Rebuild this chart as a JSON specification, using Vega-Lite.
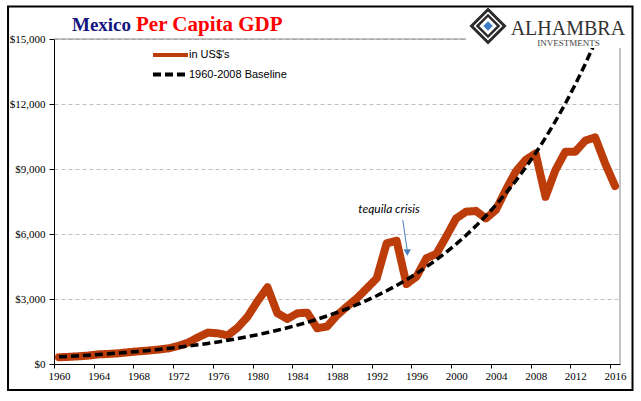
{
  "$schema": "https://vega.github.io/schema/vega-lite/v6.json",
  "width": 566,
  "height": 325,
  "autosize": {"type": "none"},
  "padding": {"left": 54, "top": 39, "right": 21, "bottom": 37},
  "background": "white",
  "config": {"view": {"stroke": null}},
  "datasets": {
    "gdp": [
      {"year": 1960, "value": 310, "series": "in US$'s"},
      {"year": 1961, "value": 330, "series": "in US$'s"},
      {"year": 1962, "value": 355, "series": "in US$'s"},
      {"year": 1963, "value": 390, "series": "in US$'s"},
      {"year": 1964, "value": 445, "series": "in US$'s"},
      {"year": 1965, "value": 465, "series": "in US$'s"},
      {"year": 1966, "value": 495, "series": "in US$'s"},
      {"year": 1967, "value": 540, "series": "in US$'s"},
      {"year": 1968, "value": 585, "series": "in US$'s"},
      {"year": 1969, "value": 620, "series": "in US$'s"},
      {"year": 1970, "value": 665, "series": "in US$'s"},
      {"year": 1971, "value": 720, "series": "in US$'s"},
      {"year": 1972, "value": 830, "series": "in US$'s"},
      {"year": 1973, "value": 985, "series": "in US$'s"},
      {"year": 1974, "value": 1230, "series": "in US$'s"},
      {"year": 1975, "value": 1450, "series": "in US$'s"},
      {"year": 1976, "value": 1415, "series": "in US$'s"},
      {"year": 1977, "value": 1320, "series": "in US$'s"},
      {"year": 1978, "value": 1680, "series": "in US$'s"},
      {"year": 1979, "value": 2185, "series": "in US$'s"},
      {"year": 1980, "value": 2900, "series": "in US$'s"},
      {"year": 1981, "value": 3540, "series": "in US$'s"},
      {"year": 1982, "value": 2340, "series": "in US$'s"},
      {"year": 1983, "value": 2080, "series": "in US$'s"},
      {"year": 1984, "value": 2340, "series": "in US$'s"},
      {"year": 1985, "value": 2370, "series": "in US$'s"},
      {"year": 1986, "value": 1650, "series": "in US$'s"},
      {"year": 1987, "value": 1730, "series": "in US$'s"},
      {"year": 1988, "value": 2250, "series": "in US$'s"},
      {"year": 1989, "value": 2650, "series": "in US$'s"},
      {"year": 1990, "value": 3030, "series": "in US$'s"},
      {"year": 1991, "value": 3490, "series": "in US$'s"},
      {"year": 1992, "value": 3955, "series": "in US$'s"},
      {"year": 1993, "value": 5570, "series": "in US$'s"},
      {"year": 1994, "value": 5690, "series": "in US$'s"},
      {"year": 1995, "value": 3690, "series": "in US$'s"},
      {"year": 1996, "value": 4030, "series": "in US$'s"},
      {"year": 1997, "value": 4880, "series": "in US$'s"},
      {"year": 1998, "value": 5080, "series": "in US$'s"},
      {"year": 1999, "value": 5880, "series": "in US$'s"},
      {"year": 2000, "value": 6720, "series": "in US$'s"},
      {"year": 2001, "value": 7030, "series": "in US$'s"},
      {"year": 2002, "value": 7060, "series": "in US$'s"},
      {"year": 2003, "value": 6720, "series": "in US$'s"},
      {"year": 2004, "value": 7110, "series": "in US$'s"},
      {"year": 2005, "value": 8030, "series": "in US$'s"},
      {"year": 2006, "value": 8880, "series": "in US$'s"},
      {"year": 2007, "value": 9420, "series": "in US$'s"},
      {"year": 2008, "value": 9720, "series": "in US$'s"},
      {"year": 2009, "value": 7720, "series": "in US$'s"},
      {"year": 2010, "value": 8950, "series": "in US$'s"},
      {"year": 2011, "value": 9800, "series": "in US$'s"},
      {"year": 2012, "value": 9800, "series": "in US$'s"},
      {"year": 2013, "value": 10310, "series": "in US$'s"},
      {"year": 2014, "value": 10460, "series": "in US$'s"},
      {"year": 2015, "value": 9260, "series": "in US$'s"},
      {"year": 2016, "value": 8215, "series": "in US$'s"}
    ],
    "base": [
      {"year": 1960, "value": 330, "series": "1960-2008 Baseline"},
      {"year": 1961, "value": 354, "series": "1960-2008 Baseline"},
      {"year": 1962, "value": 380, "series": "1960-2008 Baseline"},
      {"year": 1963, "value": 408, "series": "1960-2008 Baseline"},
      {"year": 1964, "value": 438, "series": "1960-2008 Baseline"},
      {"year": 1965, "value": 470, "series": "1960-2008 Baseline"},
      {"year": 1966, "value": 504, "series": "1960-2008 Baseline"},
      {"year": 1967, "value": 541, "series": "1960-2008 Baseline"},
      {"year": 1968, "value": 580, "series": "1960-2008 Baseline"},
      {"year": 1969, "value": 623, "series": "1960-2008 Baseline"},
      {"year": 1970, "value": 668, "series": "1960-2008 Baseline"},
      {"year": 1971, "value": 717, "series": "1960-2008 Baseline"},
      {"year": 1972, "value": 769, "series": "1960-2008 Baseline"},
      {"year": 1973, "value": 825, "series": "1960-2008 Baseline"},
      {"year": 1974, "value": 886, "series": "1960-2008 Baseline"},
      {"year": 1975, "value": 950, "series": "1960-2008 Baseline"},
      {"year": 1976, "value": 1020, "series": "1960-2008 Baseline"},
      {"year": 1977, "value": 1094, "series": "1960-2008 Baseline"},
      {"year": 1978, "value": 1174, "series": "1960-2008 Baseline"},
      {"year": 1979, "value": 1260, "series": "1960-2008 Baseline"},
      {"year": 1980, "value": 1352, "series": "1960-2008 Baseline"},
      {"year": 1981, "value": 1451, "series": "1960-2008 Baseline"},
      {"year": 1982, "value": 1557, "series": "1960-2008 Baseline"},
      {"year": 1983, "value": 1670, "series": "1960-2008 Baseline"},
      {"year": 1984, "value": 1792, "series": "1960-2008 Baseline"},
      {"year": 1985, "value": 1923, "series": "1960-2008 Baseline"},
      {"year": 1986, "value": 2064, "series": "1960-2008 Baseline"},
      {"year": 1987, "value": 2215, "series": "1960-2008 Baseline"},
      {"year": 1988, "value": 2376, "series": "1960-2008 Baseline"},
      {"year": 1989, "value": 2550, "series": "1960-2008 Baseline"},
      {"year": 1990, "value": 2736, "series": "1960-2008 Baseline"},
      {"year": 1991, "value": 2936, "series": "1960-2008 Baseline"},
      {"year": 1992, "value": 3150, "series": "1960-2008 Baseline"},
      {"year": 1993, "value": 3380, "series": "1960-2008 Baseline"},
      {"year": 1994, "value": 3627, "series": "1960-2008 Baseline"},
      {"year": 1995, "value": 3892, "series": "1960-2008 Baseline"},
      {"year": 1996, "value": 4176, "series": "1960-2008 Baseline"},
      {"year": 1997, "value": 4481, "series": "1960-2008 Baseline"},
      {"year": 1998, "value": 4808, "series": "1960-2008 Baseline"},
      {"year": 1999, "value": 5160, "series": "1960-2008 Baseline"},
      {"year": 2000, "value": 5536, "series": "1960-2008 Baseline"},
      {"year": 2001, "value": 5941, "series": "1960-2008 Baseline"},
      {"year": 2002, "value": 6375, "series": "1960-2008 Baseline"},
      {"year": 2003, "value": 6840, "series": "1960-2008 Baseline"},
      {"year": 2004, "value": 7340, "series": "1960-2008 Baseline"},
      {"year": 2005, "value": 7876, "series": "1960-2008 Baseline"},
      {"year": 2006, "value": 8451, "series": "1960-2008 Baseline"},
      {"year": 2007, "value": 9069, "series": "1960-2008 Baseline"},
      {"year": 2008, "value": 9731, "series": "1960-2008 Baseline"},
      {"year": 2009, "value": 10442, "series": "1960-2008 Baseline"},
      {"year": 2010, "value": 11205, "series": "1960-2008 Baseline"},
      {"year": 2011, "value": 12023, "series": "1960-2008 Baseline"},
      {"year": 2012, "value": 12902, "series": "1960-2008 Baseline"},
      {"year": 2013, "value": 13844, "series": "1960-2008 Baseline"},
      {"year": 2014, "value": 14855, "series": "1960-2008 Baseline"},
      {"year": 2015, "value": 15940, "series": "1960-2008 Baseline"},
      {"year": 2016, "value": 17105, "series": "1960-2008 Baseline"}
    ]
  },
  "layer": [
    {
      "data": {"values": [{}]},
      "mark": {"type": "rule", "color": "#888888", "strokeWidth": 1},
      "encoding": {
        "x": {"datum": 1959.5, "type": "quantitative"},
        "x2": {"datum": 2016.5},
        "y": {"datum": 15000, "type": "quantitative"}
      }
    },
    {
      "data": {"values": [{}]},
      "mark": {"type": "rule", "color": "#888888", "strokeWidth": 1},
      "encoding": {
        "x": {"datum": 2016.5, "type": "quantitative"},
        "y": {"datum": 0, "type": "quantitative"},
        "y2": {"datum": 15000}
      }
    },
    {
      "data": {"name": "gdp"},
      "mark": {"type": "line", "strokeWidth": 8, "strokeJoin": "round", "strokeCap": "round"},
      "encoding": {
        "x": {
          "field": "year", "type": "quantitative", "title": null,
          "scale": {"domain": [1959.5, 2016.5], "nice": false, "zero": false},
          "axis": {
            "title": null,
            "values": [1959.5,1960.5,1961.5,1962.5,1963.5,1964.5,1965.5,1966.5,1967.5,1968.5,1969.5,1970.5,1971.5,1972.5,1973.5,1974.5,1975.5,1976.5,1977.5,1978.5,1979.5,1980.5,1981.5,1982.5,1983.5,1984.5,1985.5,1986.5,1987.5,1988.5,1989.5,1990.5,1991.5,1992.5,1993.5,1994.5,1995.5,1996.5,1997.5,1998.5,1999.5,2000.5,2001.5,2002.5,2003.5,2004.5,2005.5,2006.5,2007.5,2008.5,2009.5,2010.5,2011.5,2012.5,2013.5,2014.5,2015.5,2016.5],
            "labelExpr": "((datum.value + 0.5) % 4 == 0 && datum.value < 2016) ? format(datum.value + 0.5, 'd') : ''",
            "labelOffset": 5,
            "labelFlush": false,
            "labelOverlap": false,
            "labelFont": "Liberation Serif",
            "labelFontSize": 11,
            "labelColor": "#000000",
            "labelPadding": 2,
            "tickSize": 4,
            "tickColor": "#000000",
            "domainColor": "#000000",
            "grid": false
          }
        },
        "y": {
          "field": "value", "type": "quantitative", "title": null,
          "scale": {"domain": [0, 15000], "nice": false},
          "axis": {
            "title": null,
            "values": [0, 3000, 6000, 9000, 12000, 15000],
            "format": "$,.0f",
            "labelFont": "Liberation Serif",
            "labelFontSize": 11,
            "labelColor": "#000000",
            "labelPadding": 4,
            "tickSize": 5,
            "tickColor": "#000000",
            "domainColor": "#000000",
            "grid": true,
            "gridDash": [4, 3],
            "gridColor": "#c0c0c0"
          }
        },
        "color": {
          "field": "series", "type": "nominal",
          "scale": {"domain": ["in US$'s", "1960-2008 Baseline"], "range": ["#bc3c0a", "#000000"]},
          "legend": {"orient": "none", "legendX": 97, "legendY": 10, "title": null, "symbolType": "stroke", "symbolSize": 1225, "symbolStrokeWidth": 4, "clipHeight": 12, "rowPadding": 7.5, "labelFont": "Liberation Sans", "labelFontSize": 11, "labelColor": "#000000", "labelOffset": -1, "padding": 0}
        },
        "strokeDash": {
          "field": "series", "type": "nominal",
          "scale": {"domain": ["in US$'s", "1960-2008 Baseline"], "range": [[1, 0], [8, 4]]},
          "legend": {"orient": "none", "legendX": 97, "legendY": 10, "title": null, "symbolType": "stroke", "symbolSize": 1225, "symbolStrokeWidth": 4, "clipHeight": 12, "rowPadding": 7.5, "labelFont": "Liberation Sans", "labelFontSize": 11, "labelColor": "#000000", "labelOffset": -1, "padding": 0}
        }
      }
    },
    {
      "data": {"name": "base"},
      "mark": {"type": "line", "strokeWidth": 3.5, "clip": true},
      "encoding": {
        "x": {"field": "year", "type": "quantitative", "title": null},
        "y": {"field": "value", "type": "quantitative", "title": null},
        "color": {"field": "series", "type": "nominal"},
        "strokeDash": {"field": "series", "type": "nominal"}
      }
    },
    {
      "data": {"values": [{}]},
      "mark": {"type": "rect", "fill": "white", "clip": false},
      "encoding": {
        "x": {"datum": 2000.99, "type": "quantitative"},
        "x2": {"datum": 2017.3},
        "y": {"datum": 14583, "type": "quantitative"},
        "y2": {"datum": 16400}
      }
    },
    {
      "data": {"values": [{}]},
      "mark": {"type": "point", "shape": "diamond", "size": 1089, "filled": true, "fill": "white", "stroke": "#2b2b2b", "strokeWidth": 3, "opacity": 1},
      "encoding": {
        "x": {"datum": 2003.21, "type": "quantitative"},
        "y": {"datum": 15600, "type": "quantitative"}
      }
    },
    {
      "data": {"values": [{}]},
      "mark": {"type": "point", "shape": "diamond", "size": 450, "filled": false, "stroke": "#2b2b2b", "strokeWidth": 2.5, "opacity": 1},
      "encoding": {
        "x": {"datum": 2003.21, "type": "quantitative"},
        "y": {"datum": 15600, "type": "quantitative"}
      }
    },
    {
      "data": {"values": [{}]},
      "mark": {"type": "point", "shape": "diamond", "size": 90, "filled": true, "fill": "#3d7cc9", "opacity": 1},
      "encoding": {
        "x": {"datum": 2003.21, "type": "quantitative"},
        "y": {"datum": 15600, "type": "quantitative"}
      }
    },
    {
      "data": {"values": [{}]},
      "mark": {"type": "text", "text": "ALHAMBRA", "font": "Liberation Serif", "fontSize": 20, "color": "#333333", "align": "left", "baseline": "alphabetic"},
      "encoding": {
        "x": {"datum": 2005.49, "type": "quantitative"},
        "y": {"datum": 15207, "type": "quantitative"}
      }
    },
    {
      "data": {"values": [{}]},
      "mark": {"type": "text", "text": "INVESTMENTS", "font": "Liberation Serif", "fontSize": 9, "color": "#444444", "align": "center", "baseline": "alphabetic"},
      "encoding": {
        "x": {"datum": 2011.31, "type": "quantitative"},
        "y": {"datum": 14654, "type": "quantitative"}
      }
    },
    {
      "data": {"values": [{}]},
      "mark": {"type": "text", "text": "Mexico", "font": "Liberation Serif", "fontSize": 19, "fontWeight": "bold", "color": "#141482", "align": "left", "baseline": "alphabetic"},
      "encoding": {
        "x": {"datum": 1961.31, "type": "quantitative"},
        "y": {"datum": 15369, "type": "quantitative"}
      }
    },
    {
      "data": {"values": [{}]},
      "mark": {"type": "text", "text": "Per Capita GDP", "font": "Liberation Serif", "fontSize": 21, "fontWeight": "bold", "color": "#ff0000", "align": "left", "baseline": "alphabetic"},
      "encoding": {
        "x": {"datum": 1967.76, "type": "quantitative"},
        "y": {"datum": 15369, "type": "quantitative"}
      }
    },
    {
      "data": {"values": [{}]},
      "mark": {"type": "text", "text": "tequila crisis", "font": "Lato", "fontSize": 12, "fontStyle": "italic", "color": "#000000", "align": "center", "baseline": "alphabetic"},
      "encoding": {
        "x": {"datum": 1993.24, "type": "quantitative"},
        "y": {"datum": 6969, "type": "quantitative"}
      }
    },
    {
      "data": {"values": [{}]},
      "mark": {"type": "rule", "color": "#4a7ebb", "strokeWidth": 1},
      "encoding": {
        "x": {"datum": 1994.62, "type": "quantitative"},
        "y": {"datum": 6646, "type": "quantitative"},
        "x2": {"datum": 1995.06},
        "y2": {"datum": 5300}
      }
    },
    {
      "data": {"values": [{}]},
      "mark": {"type": "point", "shape": "triangle-down", "size": 55, "filled": true, "fill": "#4a7ebb", "opacity": 1},
      "encoding": {
        "x": {"datum": 1995.08, "type": "quantitative"},
        "y": {"datum": 5146, "type": "quantitative"}
      }
    },
    {
      "data": {"values": [{}]},
      "mark": {"type": "rect", "filled": false, "stroke": "#000000", "strokeWidth": 2, "clip": false},
      "encoding": {
        "x": {"datum": 1954.87, "type": "quantitative"},
        "x2": {"datum": 2017.76},
        "y": {"datum": 16500, "type": "quantitative"},
        "y2": {"datum": -1200}
      }
    }
  ]
}
